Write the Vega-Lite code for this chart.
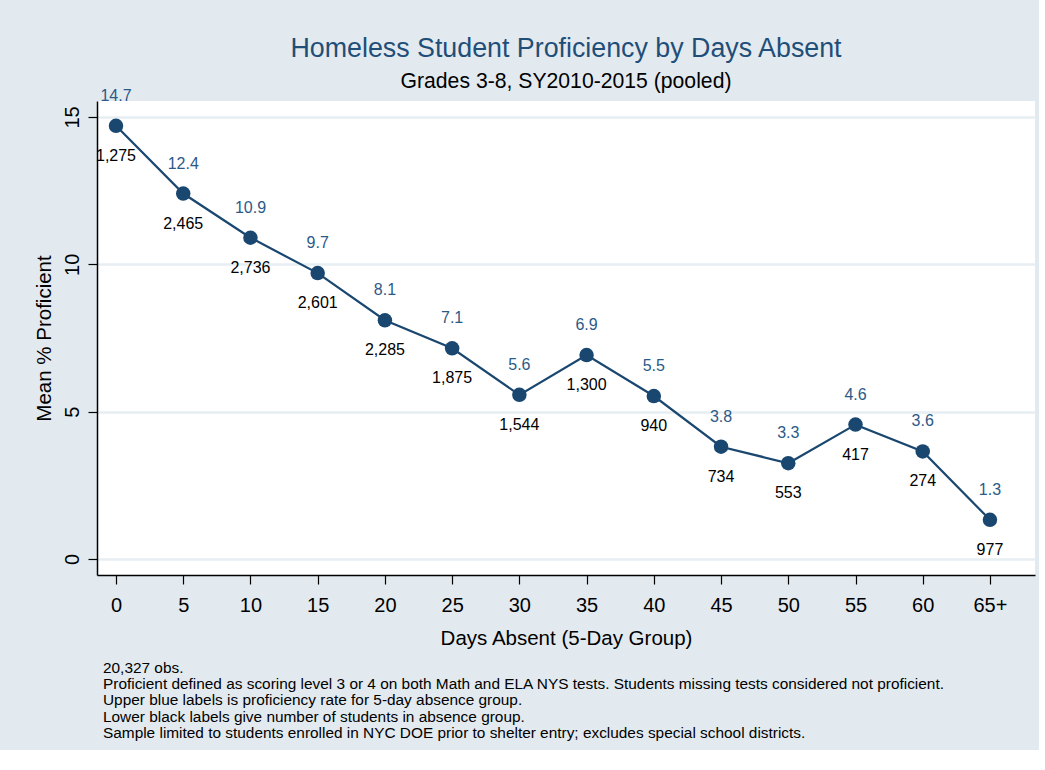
{
  "$schema": "https://vega.github.io/schema/vega-lite/v6.json",
  "background": "#E3EAEF",
  "padding": {"left": 34, "top": 35, "right": 4, "bottom": 8},
  "title": {
    "text": [
      "20,327 obs.",
      "Proficient defined as scoring level 3 or 4 on both Math and ELA NYS tests. Students missing tests considered not proficient.",
      "Upper blue labels is proficiency rate for 5-day absence group.",
      "Lower black labels give number of students in absence group.",
      "Sample limited to students enrolled in NYC DOE prior to shelter entry; excludes special school districts."
    ],
    "orient": "bottom",
    "anchor": "start",
    "frame": "group",
    "font": "Liberation Sans",
    "fontSize": 15.4,
    "fontWeight": "normal",
    "color": "#000000",
    "lineHeight": 16.4,
    "offset": 12,
    "dx": 6
  },
  "vconcat": [
    {
      "width": 938,
      "height": 474,
      "title": {
        "text": "Homeless Student Proficiency by Days Absent",
        "subtitle": "Grades 3-8, SY2010-2015 (pooled)",
        "frame": "group",
        "anchor": "middle",
        "font": "Liberation Sans",
        "fontSize": 26.8,
        "fontWeight": "normal",
        "color": "#1F4E79",
        "subtitleFont": "Liberation Sans",
        "subtitleFontSize": 21.2,
        "subtitleColor": "#000000",
        "subtitlePadding": 8,
        "offset": -4
      },
      "data": {
        "values": [
          {"days": 0, "pct": 14.7, "pct_label": "14.7", "n_label": "1,275"},
          {"days": 5, "pct": 12.4, "pct_label": "12.4", "n_label": "2,465"},
          {"days": 10, "pct": 10.9, "pct_label": "10.9", "n_label": "2,736"},
          {"days": 15, "pct": 9.7, "pct_label": "9.7", "n_label": "2,601"},
          {"days": 20, "pct": 8.1, "pct_label": "8.1", "n_label": "2,285"},
          {"days": 25, "pct": 7.15, "pct_label": "7.1", "n_label": "1,875"},
          {"days": 30, "pct": 5.57, "pct_label": "5.6", "n_label": "1,544"},
          {"days": 35, "pct": 6.92, "pct_label": "6.9", "n_label": "1,300"},
          {"days": 40, "pct": 5.53, "pct_label": "5.5", "n_label": "940"},
          {"days": 45, "pct": 3.81, "pct_label": "3.8", "n_label": "734"},
          {"days": 50, "pct": 3.25, "pct_label": "3.3", "n_label": "553"},
          {"days": 55, "pct": 4.56, "pct_label": "4.6", "n_label": "417"},
          {"days": 60, "pct": 3.65, "pct_label": "3.6", "n_label": "274"},
          {"days": 65, "pct": 1.33, "pct_label": "1.3", "n_label": "977"}
        ]
      },
      "encoding": {
        "x": {
          "field": "days",
          "type": "quantitative",
          "scale": {"domain": [-1.413, 68.35], "nice": false, "zero": false},
          "axis": {
            "title": "Days Absent (5-Day Group)",
            "values": [0, 5, 10, 15, 20, 25, 30, 35, 40, 45, 50, 55, 60, 65],
            "labelExpr": "datum.value == 65 ? '65+' : datum.label",
            "grid": false,
            "domainColor": "#000000",
            "domainWidth": 1.5,
            "tickColor": "#000000",
            "tickSize": 9,
            "tickWidth": 1.2,
            "labelFont": "Liberation Sans",
            "labelFontSize": 20,
            "labelColor": "#000000",
            "labelPadding": 11,
            "labelFlush": false,
            "titleFont": "Liberation Sans",
            "titleFontSize": 20.5,
            "titleFontWeight": "normal",
            "titleColor": "#000000",
            "titlePadding": 13
          }
        },
        "y": {
          "field": "pct",
          "type": "quantitative",
          "scale": {"domain": [-0.543, 15.54], "nice": false, "zero": false},
          "axis": {
            "title": "Mean % Proficient",
            "values": [0, 5, 10, 15],
            "grid": true,
            "gridColor": "#E6EEF2",
            "gridWidth": 2.5,
            "domainColor": "#000000",
            "domainWidth": 1.5,
            "tickColor": "#000000",
            "tickSize": 9,
            "tickWidth": 1.2,
            "labelAngle": -90,
            "labelAlign": "center",
            "labelBaseline": "bottom",
            "labelFont": "Liberation Sans",
            "labelFontSize": 20,
            "labelColor": "#000000",
            "labelPadding": 6,
            "labelFlush": false,
            "titleFont": "Liberation Sans",
            "titleFontSize": 20.5,
            "titleFontWeight": "normal",
            "titleColor": "#000000",
            "titlePadding": 8
          }
        }
      },
      "layer": [
        {
          "mark": {"type": "line", "color": "#1A476F", "strokeWidth": 2.2}
        },
        {
          "mark": {"type": "circle", "color": "#1A476F", "opacity": 1, "size": 210}
        },
        {
          "mark": {"type": "text", "color": "#2B5A88", "font": "Liberation Sans", "fontSize": 16, "dy": -30, "clip": false},
          "encoding": {"text": {"field": "pct_label"}}
        },
        {
          "mark": {"type": "text", "color": "#000000", "font": "Liberation Sans", "fontSize": 16, "dy": 30, "clip": false},
          "encoding": {"text": {"field": "n_label"}}
        }
      ]
    }
  ],
  "config": {
    "view": {"fill": "#FFFFFF", "stroke": null},
    "concat": {"spacing": 0}
  }
}
